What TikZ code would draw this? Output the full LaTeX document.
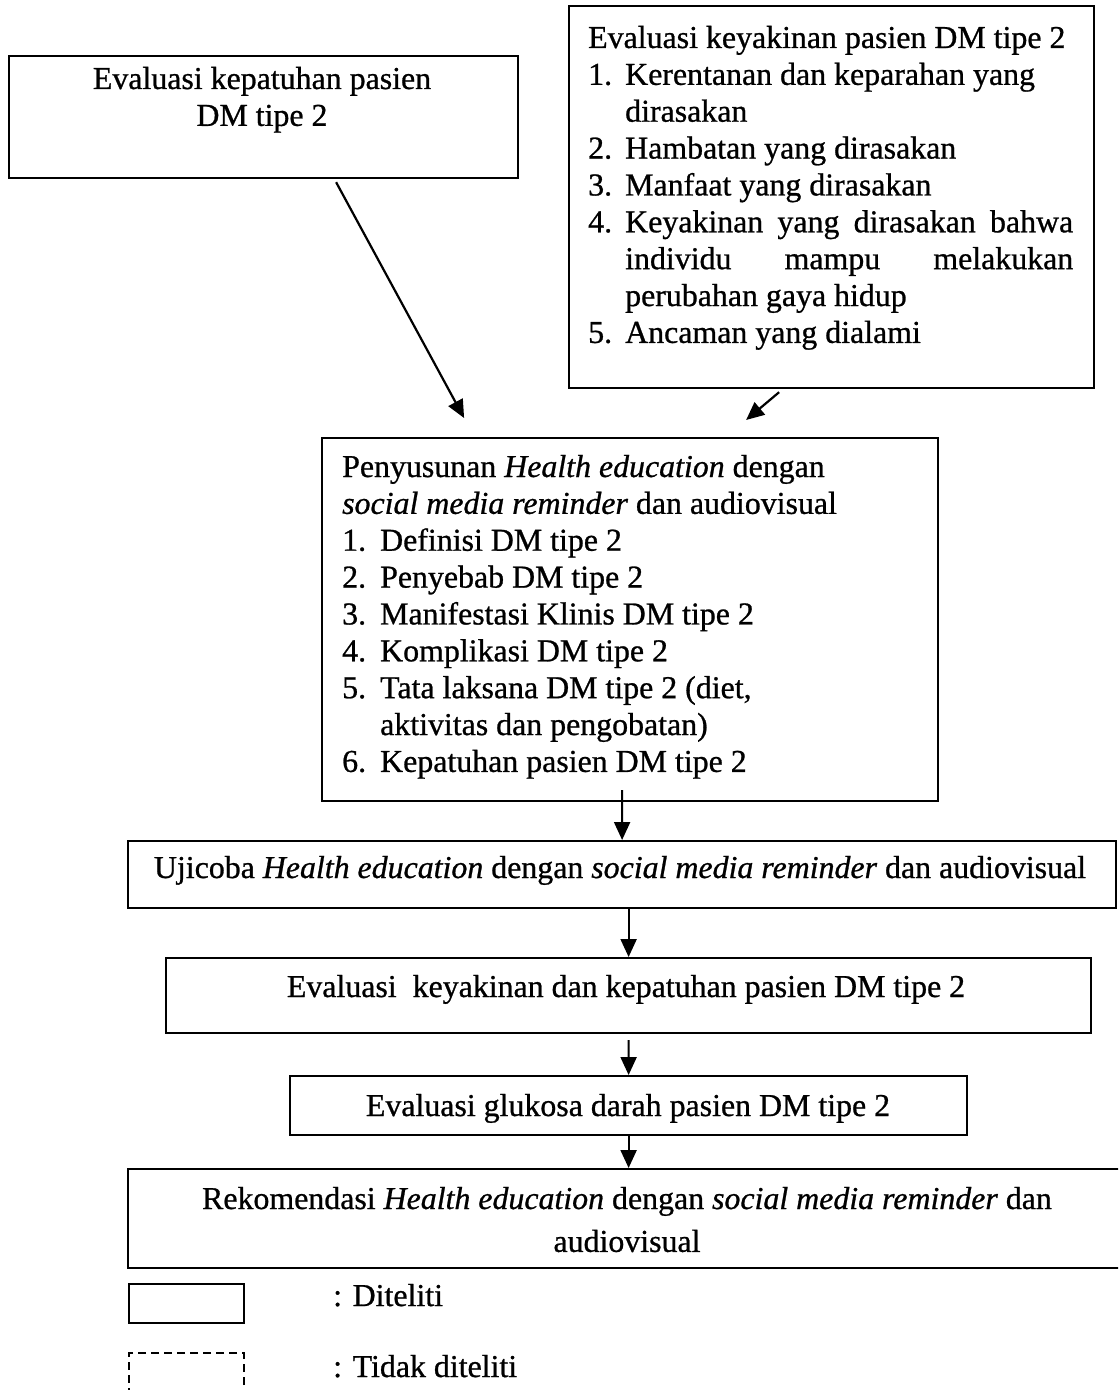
\documentclass[tikz,border=0pt]{standalone}
\usepackage{fontspec}
\setmainfont{Liberation Serif}[FakeBold=0.8]
\usetikzlibrary{arrows.meta}

\tikzset{
  box/.style={draw, line width=2.2bp, inner sep=0pt, anchor=north west},
  txt/.style={inner sep=0pt, font=\fontsize{32}{37}\selectfont},
  arr/.style={line width=2.2bp, -{Triangle[length=18bp,width=16bp]}},
}

\begin{document}
\begin{tikzpicture}[x=1bp, y=-1bp]
  \useasboundingbox (0,0) rectangle (1118,1390);
  \clip (0,0) rectangle (1118,1390);

  % boxes
  \node[box, minimum width=509bp, minimum height=122bp] (kepatuhan) at (8,55) {};
  \node[box, minimum width=525bp, minimum height=382bp] (keyakinan) at (568,5) {};
  \node[box, minimum width=616bp, minimum height=363bp] (penyusunan) at (321,437) {};
  \node[box, minimum width=988bp, minimum height=67bp] (ujicoba) at (127,840) {};
  \node[box, minimum width=925bp, minimum height=75bp] (evaluasi) at (165,957) {};
  \node[box, minimum width=677bp, minimum height=59bp] (glukosa) at (289,1075) {};
  \node[box, minimum width=1000bp, minimum height=99bp] (rekomendasi) at (127,1168) {};

  % texts
  \node[txt, anchor=base] (kepatuhanText) at (262,89)
    {\begin{tabular}[t]{@{}c@{}}Evaluasi kepatuhan pasien\\DM tipe 2\end{tabular}};
  \node[txt, anchor=base west] (keyakinanText) at (588,48)
    {\begin{tabular}[t]{@{}p{37bp}@{}p{448bp}@{}}
      \multicolumn{2}{@{}l@{}}{Evaluasi keyakinan pasien DM tipe 2}\\
      1. & Kerentanan dan keparahan yang\newline dirasakan\\
      2. & Hambatan yang dirasakan\\
      3. & Manfaat yang dirasakan\\
      4. & Keyakinan yang dirasakan bahwa\linebreak individu mampu melakukan\linebreak perubahan gaya hidup\\
      5. & Ancaman yang dialami
    \end{tabular}};
  \node[txt, anchor=base west] (penyusunanText) at (342,477)
    {\begin{tabular}[t]{@{}p{38bp}@{}p{520bp}@{}}
      \multicolumn{2}{@{}l@{}}{Penyusunan \textit{Health education} dengan}\\
      \multicolumn{2}{@{}l@{}}{\textit{social media reminder} dan audiovisual}\\
      1. & Definisi DM tipe 2\\
      2. & Penyebab DM tipe 2\\
      3. & Manifestasi Klinis DM tipe 2\\
      4. & Komplikasi DM tipe 2\\
      5. & Tata laksana DM tipe 2 (diet,\newline aktivitas dan pengobatan)\\
      6. & Kepatuhan pasien DM tipe 2
    \end{tabular}};
  \node[txt, anchor=base] (ujicobaText) at (620,878)
    {Ujicoba \textit{Health education} dengan \textit{social media reminder} dan audiovisual};
  \node[txt, anchor=base] (evaluasiText) at (626,997)
    {Evaluasi~ keyakinan dan kepatuhan pasien DM tipe 2};
  \node[txt, anchor=base] (glukosaText) at (628,1116)
    {Evaluasi glukosa darah pasien DM tipe 2};
  \node[txt, anchor=base] (rekomendasiText) at (627,1209)
    {\begin{tabular}[t]{@{}c@{}}Rekomendasi \textit{Health education} dengan \textit{social media reminder} dan\\[6bp]audiovisual\end{tabular}};

  % connectors
  \draw[arr] ([xshift=72.5bp,yshift=-3bp]kepatuhan.south) -- ([xshift=-166bp,yshift=19bp]penyusunan.north);
  \draw[arr] ([xshift=-52.5bp,yshift=-3bp]keyakinan.south) -- ([xshift=116bp,yshift=17bp]penyusunan.north);
  \draw[arr] ([xshift=-8bp,yshift=12bp]penyusunan.south) -- (ujicoba.north);
  \draw[arr] (ujicoba.south -| evaluasi.north) -- (evaluasi.north);
  \draw[arr] ([yshift=-6bp]evaluasi.south) -- (glukosa.north);
  \draw[arr] (glukosa.south) -- (glukosa.south |- rekomendasi.north);

  % legend
  \node[box, minimum width=115bp, minimum height=39bp] (diteliti) at (128,1283) {};
  \node[box, dash pattern=on 8bp off 5bp, minimum width=115bp, minimum height=60bp] (tidakDiteliti) at (128,1352) {};
  \node[txt, anchor=base west] (ditelitiText) at (333,1306) {: Diteliti};
  \node[txt, anchor=base west] (tidakDitelitiText) at (333,1377) {: Tidak diteliti};
\end{tikzpicture}
\end{document}
